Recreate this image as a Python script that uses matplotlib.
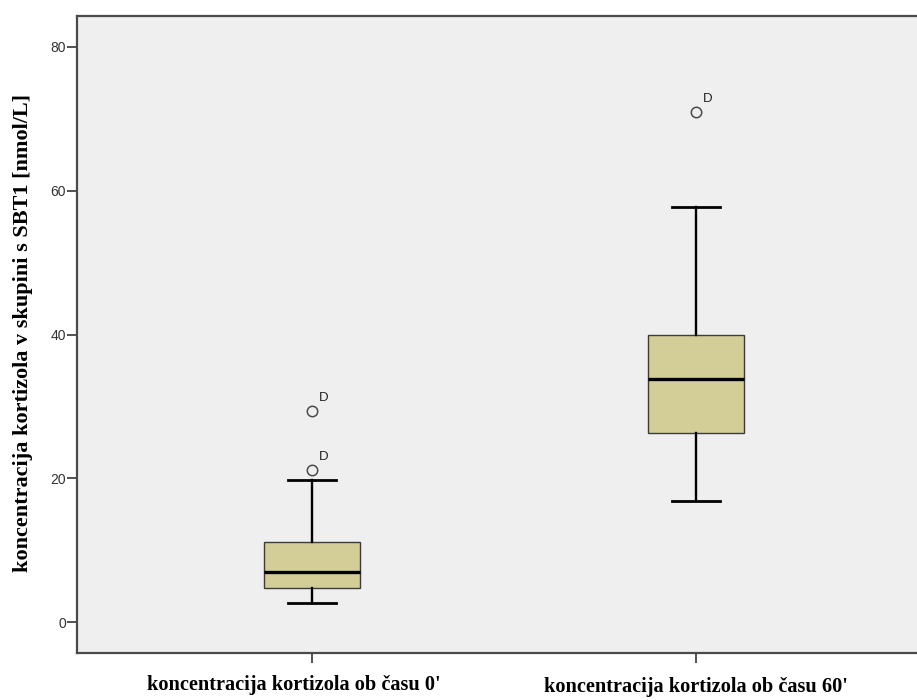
import matplotlib
matplotlib.use("Agg")
import matplotlib.pyplot as plt
import matplotlib.transforms as mtransforms

# Box summary values (nmol/L)
categories = ["koncentracija kortizola ob času 0'", "koncentracija kortizola ob času 60'"]
whisker_low = [2.7, 16.8]
q1 = [4.8, 26.3]
median = [7.0, 33.8]
q3 = [11.2, 39.9]
whisker_high = [19.7, 57.8]
outliers = [[21.2, 29.3], [70.9]]
outlier_labels = [["D", "D"], ["D"]]

y_ticks = [0, 20, 40, 60, 80]

fig = plt.figure(figsize=(9.17, 7.0), dpi=100)
W, H = 917, 700
left_px, right_px, top_px, bottom_px = 77, 931, 16, 653
ax = fig.add_axes([left_px / W, 1 - bottom_px / H,
                   (right_px - left_px) / W, (bottom_px - top_px) / H])
ax.set_facecolor("#efefef")

stats = []
for i in range(len(categories)):
    stats.append(dict(med=median[i], q1=q1[i], q3=q3[i],
                      whislo=whisker_low[i], whishi=whisker_high[i],
                      fliers=outliers[i], label=categories[i]))

positions = list(range(1, len(categories) + 1))
ax.bxp(stats, positions=positions, widths=0.25, patch_artist=True,
       showfliers=True,
       boxprops=dict(facecolor="#d3ce98", edgecolor="#3c3c3c", linewidth=1.0),
       medianprops=dict(color="black", linewidth=2.4),
       whiskerprops=dict(color="black", linewidth=1.7),
       capprops=dict(color="black", linewidth=2.0),
       capwidths=0.125,
       flierprops=dict(marker="o", markersize=7.5, markerfacecolor="none",
                       markeredgecolor="#4a4a4a", markeredgewidth=1.1))

# Case labels beside each outlier
lab_offset = mtransforms.offset_copy(ax.transData, fig=fig, x=5, y=5, units="points")
for pos, vals, labs in zip(positions, outliers, outlier_labels):
    for v, s in zip(vals, labs):
        ax.text(pos, v, s, transform=lab_offset, fontsize=9.5,
                family="Liberation Sans", color="#222222",
                ha="left", va="bottom")

ax.set_xlim(0.388, 2.612)
ax.set_ylim(-4.3, 84.3)
ax.set_yticks(y_ticks)
ax.set_yticklabels([str(t) for t in y_ticks], family="Liberation Sans",
                   fontsize=10, color="#333333")
ax.set_xticks(positions)
ax.set_xticklabels(categories, family="Liberation Serif", fontweight="bold",
                   fontsize=14.6, color="black")
ax.tick_params(axis="y", length=7, width=1.2, color="#333333", pad=1)
ax.tick_params(axis="x", length=7, width=1.2, color="#333333", pad=10)

# SPSS-style staggered category labels
xl = ax.get_xticklabels()
xl[0].set_transform(xl[0].get_transform() +
                    mtransforms.ScaledTranslation(-18 / 100, 2 / 100, fig.dpi_scale_trans))

for side in ["left", "top", "bottom"]:
    ax.spines[side].set_color("#4a4a4a")
    ax.spines[side].set_linewidth(1.6)
ax.spines["right"].set_visible(False)

ax.set_ylabel("koncentracija kortizola v skupini s SBT1 [nmol/L]",
              family="Liberation Serif", fontweight="bold", fontsize=16,
              color="black")
ax.yaxis.set_label_coords(-0.052, 0.503)

fig.savefig("out.png", dpi=100, facecolor="white")
